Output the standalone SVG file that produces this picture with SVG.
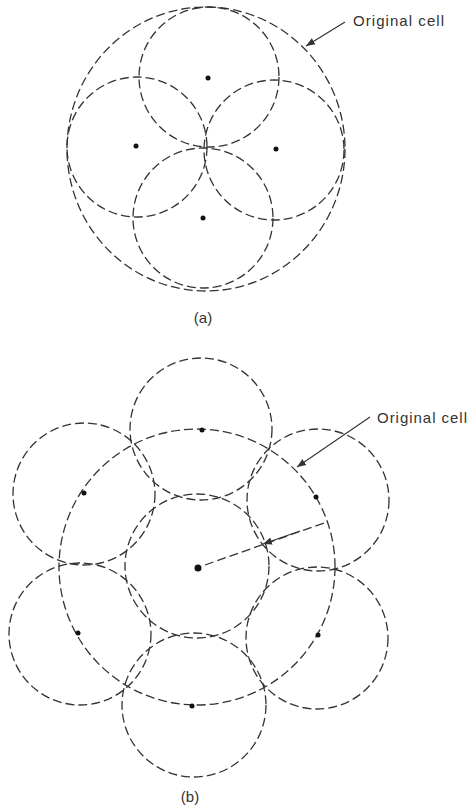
<svg xmlns="http://www.w3.org/2000/svg" width="469" height="805" viewBox="0 0 469 805">
<defs>
<style>
.c{fill:none;stroke:#333;stroke-width:1.3;stroke-dasharray:9 4}
.d{fill:#111}
.l{fill:none;stroke:#333;stroke-width:1.1}
.t{font-family:"Liberation Sans",Arial,sans-serif;font-size:15px;fill:#333}
</style>
<marker id="ah" viewBox="0 0 10 10" refX="10" refY="5" markerWidth="9" markerHeight="9" markerUnits="userSpaceOnUse" orient="auto">
<path d="M0,1 L10,5 L0,9 Z" fill="#333"/>
</marker>
</defs>
<rect width="469" height="805" fill="#fff"/>

<!-- Part (a) -->
<g id="a-original"><ellipse class="c" cx="206" cy="149" rx="139" ry="142"/></g>
<g id="a-top"><circle class="c" cx="209" cy="77" r="70"/><circle class="d" cx="208" cy="78" r="2.5"/></g>
<g id="a-left"><circle class="c" cx="137" cy="147" r="70"/><circle class="d" cx="136" cy="146" r="2.5"/></g>
<g id="a-right"><circle class="c" cx="274" cy="150" r="70"/><circle class="d" cx="276" cy="149" r="2.5"/></g>
<g id="a-bottom"><circle class="c" cx="203" cy="218" r="70"/><circle class="d" cx="203" cy="218" r="2.5"/></g>
<g id="a-label"><text class="t" x="353" y="26" textLength="91" lengthAdjust="spacing">Original cell</text></g>
<g id="a-caption"><text class="t" x="203" y="323" text-anchor="middle" font-size="12">(a)</text></g>

<!-- Part (b) -->
<g id="b-original"><circle class="c" cx="197" cy="567" r="138"/></g>
<g id="b-center"><circle class="c" cx="197" cy="566" r="72"/><circle class="d" cx="198" cy="568" r="3.5"/></g>
<g id="b-top"><circle class="c" cx="201" cy="429" r="71"/><circle class="d" cx="202" cy="430" r="2.5"/></g>
<g id="b-topleft"><circle class="c" cx="84" cy="494" r="71"/><circle class="d" cx="84" cy="493" r="2.5"/></g>
<g id="b-topright"><circle class="c" cx="318" cy="500" r="71"/><circle class="d" cx="316" cy="497" r="2.5"/></g>
<g id="b-bottomleft"><circle class="c" cx="80" cy="634" r="71"/><circle class="d" cx="78" cy="633" r="2.5"/></g>
<g id="b-bottomright"><circle class="c" cx="317" cy="638" r="71"/><circle class="d" cx="318" cy="635" r="2.5"/></g>
<g id="b-bottom"><circle class="c" cx="194" cy="705" r="72"/><circle class="d" cx="192" cy="706" r="2.5"/></g>
<g id="b-label"><text class="t" x="377" y="423" textLength="90" lengthAdjust="spacing">Original cell</text></g>
<g id="b-caption"><text class="t" x="190" y="802" text-anchor="middle" font-size="12">(b)</text></g>

<g id="connectors">
<line class="l" x1="345" y1="22" x2="306" y2="46" marker-end="url(#ah)"/>
<line class="l" x1="370" y1="417" x2="297" y2="467" marker-end="url(#ah)"/>
<line class="c" x1="205" y1="565" x2="327" y2="522"/>
<line class="l" x1="300" y1="531" x2="263" y2="544" marker-end="url(#ah)"/>
</g>
</svg>
